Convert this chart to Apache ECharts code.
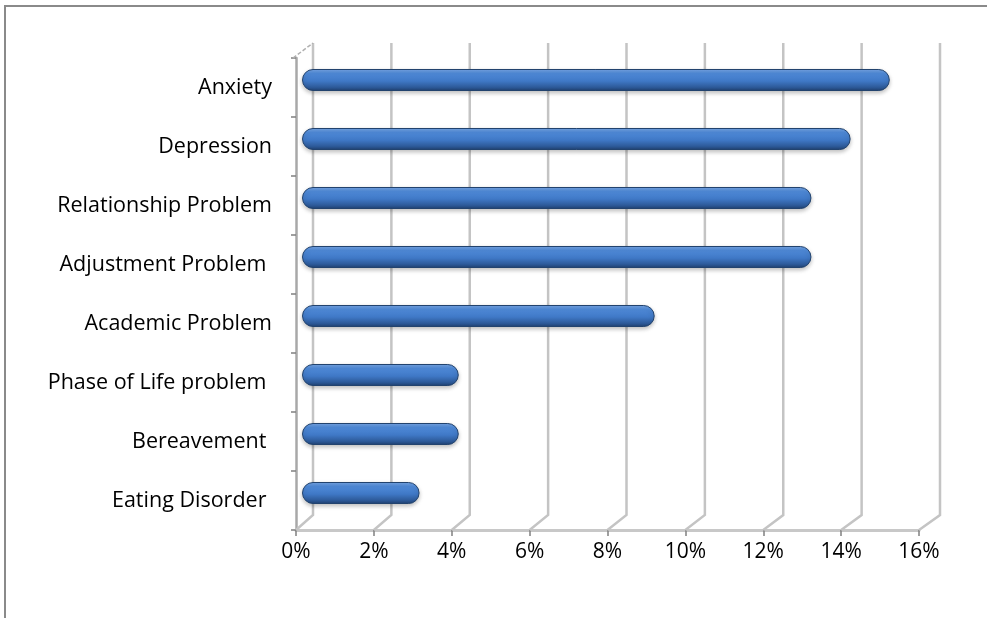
<!DOCTYPE html>
<html><head><meta charset="utf-8">
<script src="https://cdn.jsdelivr.net/npm/echarts@6/dist/echarts.min.js"></script>
<style>html,body{margin:0;padding:0;background:#fff}#c{width:987px;height:618px}</style>
</head><body><div id="c"></div>
<script>
const categories = ['Anxiety', 'Depression', 'Relationship Problem', 'Adjustment Problem ', 'Academic Problem', 'Phase of Life problem ', 'Bereavement ', 'Eating Disorder '];
const values = [15, 14, 13, 13, 9, 4, 4, 3];
const tickValues = [0, 2, 4, 6, 8, 10, 12, 14, 16];

const FONT = 'Open Sans';
const chart = echarts.init(document.getElementById('c'));

function gridRender(params, api) {
  const cs = params.coordSys;
  const v = api.value(0);
  const x = api.coord([v, categories[0]])[0];
  const yb = cs.y + cs.height;
  const dx = 17 + v * 0.25, dy = -15;
  const children = [{
    type: 'polyline',
    shape: { points: [[x, yb], [x + dx, yb + dy], [x + dx, cs.y + dy]] },
    style: { stroke: '#c4c4c4', lineWidth: 2.5, fill: null }
  }];
  if (v === 0) {
    children.push({
      type: 'line',
      shape: { x1: x - 3, y1: cs.y, x2: x + dx, y2: cs.y + dy },
      style: { stroke: '#b0b0b0', lineWidth: 1.5, lineDash: [4, 2] }
    });
  }
  return { type: 'group', children: children };
}

chart.setOption({
  animation: false,
  graphic: [{
    type: 'polyline', silent: true,
    shape: { points: [[5, 630], [5, 6], [1000, 6]] },
    style: { stroke: '#8a8a8a', lineWidth: 2, fill: null }
  }],
  grid: [
    { left: 296, right: 68, top: 58, bottom: 88 },
    { left: 302, right: 58, top: 50.5, bottom: 95.5 }
  ],
  xAxis: [
    {
      gridIndex: 0, type: 'value', min: 0, max: 16, interval: 2,
      splitLine: { show: false },
      axisLine: { show: true, lineStyle: { color: '#c8c8c8', width: 3 } },
      axisTick: { show: true, length: 6, lineStyle: { color: '#808080', width: 1.5 } },
      axisLabel: { formatter: '{value}%', fontFamily: FONT, fontSize: 21, color: '#000', margin: 12 }
    },
    { gridIndex: 1, type: 'value', min: 0, max: 16, show: false, splitLine: { show: false } }
  ],
  yAxis: [
    {
      gridIndex: 0, type: 'category', data: categories, inverse: true,
      offset: 3,
      axisLine: { show: true, lineStyle: { color: '#a8a8a8', width: 2.5 } },
      axisTick: { show: true, length: 5, lineStyle: { color: '#808080', width: 1.5 } },
      axisLabel: { fontFamily: FONT, fontSize: 21.5, color: '#000', margin: 21 }
    },
    { gridIndex: 1, type: 'category', data: categories, inverse: true, show: false }
  ],
  series: [
    {
      type: 'custom', xAxisIndex: 0, yAxisIndex: 0, z: 1,
      data: tickValues.map(v => [v]),
      renderItem: gridRender, silent: true
    },
    {
      type: 'bar', xAxisIndex: 1, yAxisIndex: 1, z: 5,
      data: values, barWidth: 22,
      itemStyle: {
        borderRadius: 11,
        borderColor: '#22436e', borderWidth: 1,
        shadowColor: 'rgba(0,0,0,0.25)', shadowBlur: 4, shadowOffsetY: 2,
        color: new echarts.graphic.LinearGradient(0, 0, 0, 1, [
          { offset: 0, color: '#7aa8e6' },
          { offset: 0.2, color: '#4f8ad8' },
          { offset: 0.55, color: '#3f78c6' },
          { offset: 0.85, color: '#2c5896' },
          { offset: 1, color: '#1f3f6e' }
        ])
      }
    }
  ]
});
</script></body></html>
